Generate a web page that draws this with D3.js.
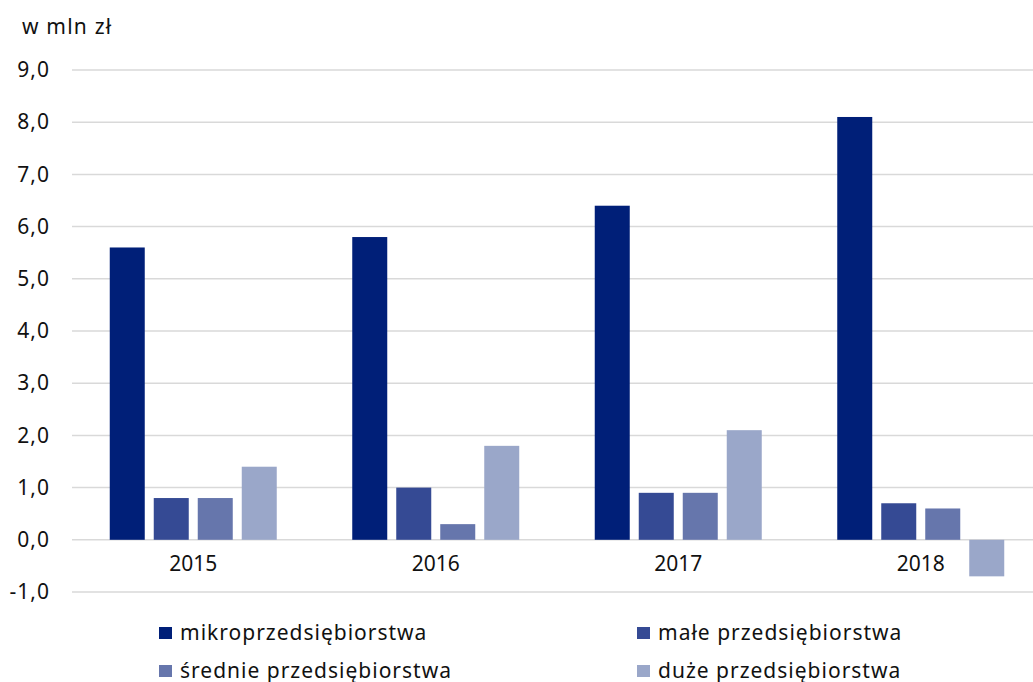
<!DOCTYPE html>
<html>
<head>
<meta charset="utf-8">
<script src="https://cdn.jsdelivr.net/npm/d3@7"></script>
<style>
  body { margin: 0; background: #fff; }
  svg { font-family: "Noto Sans", "Open Sans", sans-serif; }
</style>
</head>
<body>
<svg id="chart" width="1033" height="682"></svg>
<script>
// chart data
var years = ['2015', '2016', '2017', '2018'];
var seriesNames = ['mikroprzedsiębiorstwa', 'małe przedsiębiorstwa', 'średnie przedsiębiorstwa', 'duże przedsiębiorstwa'];
var mikro = [5.6, 5.8, 6.4, 8.1];
var male = [0.8, 1.0, 0.9, 0.7];
var srednie = [0.8, 0.3, 0.9, 0.6];
var duze = [1.4, 1.8, 2.1, -0.7];
var yTicks = [-1, 0, 1, 2, 3, 4, 5, 6, 7, 8, 9];
var colors = ['#001f78', '#354a94', '#6676ac', '#9aa7c9'];

var allSeries = [mikro, male, srednie, duze];

var svg = d3.select('#chart');
// plot area (the category band runs a bit past the right edge, as in the original)
var plotLeft = 72, plotRight = 1042, plotTop = 70, plotBottom = 592;
var textColor = '#111';

var x = d3.scaleBand().domain(years).range([plotLeft, plotRight]).paddingInner(0).paddingOuter(0);
// bars 35px wide, 9px gap, inside each year band
var x1 = d3.scaleBand().domain(d3.range(4)).range([37.75, 37.75 + 167]).paddingInner(9 / 44).paddingOuter(0);
var y = d3.scaleLinear().domain([-1, 9]).range([plotBottom, plotTop]);

// gridlines
svg.append('g')
  .selectAll('line')
  .data(yTicks)
  .enter()
  .append('line')
    .attr('x1', plotLeft)
    .attr('x2', 1033)
    .attr('y1', function(d) { return y(d); })
    .attr('y2', function(d) { return y(d); })
    .attr('stroke', '#d9d9d9')
    .attr('stroke-width', 1.5);

// y axis labels
var yAxis = svg.append('g')
  .attr('transform', 'translate(' + (plotLeft - 22) + ',0)')
  .call(d3.axisLeft(y).tickValues(yTicks).tickSize(0).tickPadding(0)
    .tickFormat(function(d) { return d3.format('.1f')(d).replace('.', ',').replace('\u2212', '-'); }));
yAxis.select('.domain').remove();
yAxis.selectAll('text')
  .attr('font-size', 21)
  .attr('letter-spacing', 1)
  .attr('font-family', '"Noto Sans", sans-serif')
  .attr('fill', textColor);

// bars
var groups = svg.append('g')
  .selectAll('g')
  .data(years)
  .enter()
  .append('g')
    .attr('transform', function(d) { return 'translate(' + x(d) + ',0)'; });

groups.selectAll('rect')
  .data(function(d, i) { return allSeries.map(function(s, k) { return {k: k, v: s[i]}; }); })
  .enter()
  .append('rect')
    .attr('x', function(d) { return x1(d.k); })
    .attr('width', x1.bandwidth())
    .attr('y', function(d) { return y(Math.max(0, d.v)); })
    .attr('height', function(d) { return Math.abs(y(d.v) - y(0)); })
    .attr('fill', function(d) { return colors[d.k]; });

// x axis labels
var xAxis = svg.append('g')
  .attr('transform', 'translate(0,' + (y(0) + 8) + ')')
  .call(d3.axisBottom(x).tickSize(0).tickPadding(8));
xAxis.select('.domain').remove();
xAxis.selectAll('text')
  .attr('font-size', 21)
  .attr('font-family', '"Noto Sans", sans-serif')
  .attr('fill', textColor);

// unit label
svg.append('text')
  .attr('x', 22)
  .attr('y', 34)
  .attr('font-size', 21)
  .attr('letter-spacing', 1.2)
  .attr('fill', textColor)
  .text('w mln zł');

// legend
var legendPos = [[159, 633], [637, 633], [159, 671], [637, 671]];
var legend = svg.append('g')
  .selectAll('g')
  .data(seriesNames)
  .enter()
  .append('g')
    .attr('transform', function(d, i) { return 'translate(' + legendPos[i][0] + ',' + legendPos[i][1] + ')'; });
legend.append('rect')
  .attr('x', 0)
  .attr('y', -6)
  .attr('width', 13)
  .attr('height', 12)
  .attr('fill', function(d, i) { return colors[i]; });
legend.append('text')
  .attr('x', 21)
  .attr('y', 0)
  .attr('dy', '0.35em')
  .attr('font-size', 21)
  .attr('letter-spacing', 1)
  .attr('fill', textColor)
  .text(function(d) { return d; });
</script>
</body>
</html>
